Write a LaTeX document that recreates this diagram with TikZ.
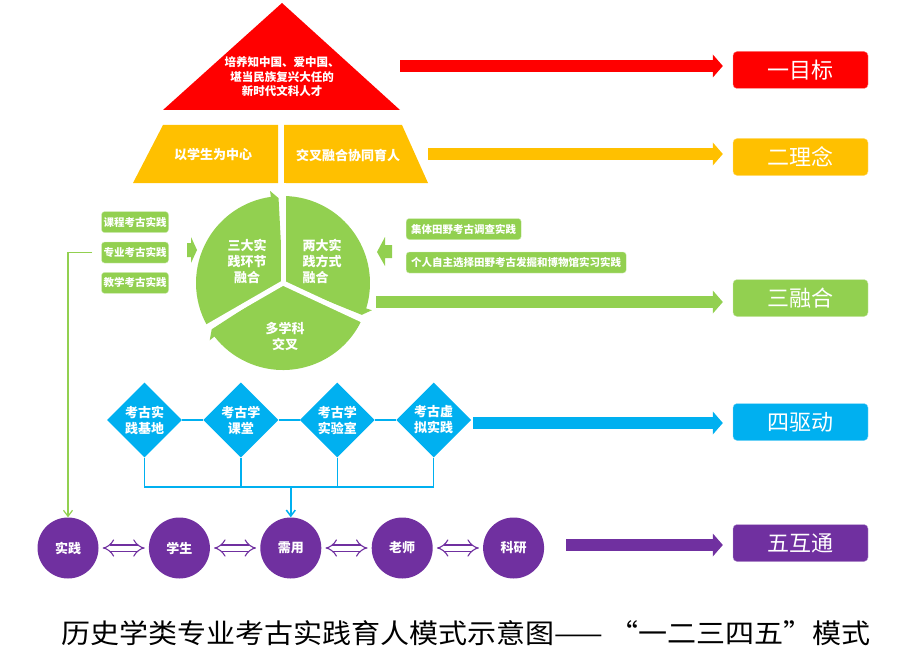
\documentclass[tikz,border=0pt]{standalone}
\usepackage{fontspec}
\newfontfamily\cjk{Noto Sans CJK SC}
\usetikzlibrary{arrows.meta,positioning,shapes.geometric}
\definecolor{cRed}{HTML}{FF0000}
\definecolor{cYel}{HTML}{FFC000}
\definecolor{cGrn}{HTML}{92D050}
\definecolor{cBlu}{HTML}{00B0F0}
\definecolor{cPur}{HTML}{7030A0}
\tikzset{
  lvl/.style={draw=white!55!#1, fill=#1, rounded corners=4pt, minimum width=135pt,
              minimum height=37pt, text=white, font=\cjk\fontsize{22}{24}\selectfont},
  flow/.style={draw=#1, line width=12pt,
               -{Triangle[length=10pt 0 0, width=23pt 0 0, line width=0pt 0 0]},
               shorten >=10pt},
  wtxt/.style={text=white, align=center, font=\cjk\bfseries\fontsize{13}{16}\selectfont},
  gtag/.style={fill=cGrn, draw=white!60!cGrn, rounded corners=3pt, minimum height=21pt,
               text=white, inner xsep=2pt, font=\cjk\bfseries\fontsize{10.5}{12}\selectfont},
  dia/.style={diamond, fill=cBlu, minimum width=75pt, minimum height=75pt, inner sep=0pt, wtxt},
  pc/.style={circle, fill=cPur, minimum size=61pt, inner sep=0pt, wtxt},
  dbl/.style={draw=cPur, line width=1.1pt, double=white, double distance=5pt,
              {Implies[length=7pt 0 0, width=15pt 0 0]}-{Implies[length=7pt 0 0, width=15pt 0 0]},
              shorten <=4pt, shorten >=4pt},
  bline/.style={draw=cBlu, line width=1.5pt},
  gline/.style={draw=cGrn, line width=1.2pt},
  barb/.style={-{Straight Barb[length=6pt,width=9pt]}},
}

\begin{document}
\begin{tikzpicture}[x=1pt, y=-1pt]
  \useasboundingbox (0,0) rectangle (918,658);

  % ---- right column: the five levels ----
  \node[lvl=cRed] (b1) at (800.5,70) {一目标};
  \node[lvl=cYel] (b2) at (800.5,157) {二理念};
  \node[lvl=cGrn] (b3) at (800.5,298) {三融合};
  \node[lvl=cBlu] (b4) at (800.5,422) {四驱动};
  \node[lvl=cPur] (b5) at (800.5,543) {五互通};

  % ---- goal: red pyramid ----
  \fill[cRed] (282,3) -- (400,110) -- (163,110) -- cycle;
  \node[wtxt, font=\cjk\bfseries\fontsize{11.5}{14.5}\selectfont] (aim) at (282,77)
    {培养知中国、爱中国、\\堪当民族复兴大任的\\新时代文科人才};
  \coordinate (a1) at (400,66);
  \draw[flow=cRed] (a1) -- (a1 -| b1.west);

  % ---- idea: yellow trapezoid ----
  \fill[cYel] (163,125) -- (278,125) -- (278,183) -- (133,183) -- cycle;
  \fill[cYel] (284,125) -- (402,125) -- (428,183) -- (284,183) -- cycle;
  \node[wtxt] (c1) at (213,155) {以学生为中心};
  \node[wtxt] (c2) at (348,155) {交叉融合协同育人};
  \coordinate (a2) at (428,154);
  \draw[flow=cYel] (a2) -- (a2 -| b2.west);

  % ---- fusion: green cycle ----
  \begin{scope}[shift={(283,283)}, yscale=-1]
    \fill[cGrn] (0,0) -- (210:87) arc[start angle=210, end angle=98, radius=87]
      -- (98:93) -- (93:85) -- cycle;
    \fill[cGrn] (0,0) -- (90:87) arc[start angle=90, end angle=-17, radius=87]
      -- (-17:93) -- (-22:85) -- cycle;
    \fill[cGrn] (0,0) -- (-25:87) arc[start angle=-25, end angle=-142, radius=87]
      -- (-142:93) -- (-147:85) -- cycle;
    \foreach \g in {90,210,335}
      \draw[white, line width=5pt] (0,0) -- (\g:100);
  \end{scope}
  \node[wtxt] (s1) at (247,261) {三大实\\践环节\\融合};
  \node[wtxt, align=left, anchor=west] (s2) at (299,261) {两大实\\践方式\\融合};
  \node[wtxt] (s3) at (285,336) {多学科\\交叉};

  \node[gtag] (t2) at (135,252.5) {专业考古实践};
  \node[gtag, above=9pt of t2] (t1) {课程考古实践};
  \node[gtag, below=9pt of t2] (t3) {教学考古实践};
  \fill[cGrn] (187,243) -- (191,243) -- (191,237) -- (197,250) -- (191,263)
    -- (191,257) -- (187,257) -- cycle;

  \node[gtag, inner xsep=5pt, anchor=west] (f1) at (406,229) {集体田野考古调查实践};
  \node[gtag, inner xsep=5pt, anchor=west] (f2) at (406,262.5) {个人自主选择田野考古发掘和博物馆实习实践};
  \fill[cGrn] (392,245) -- (385,245) -- (385,237) -- (377,252) -- (385,266)
    -- (385,258) -- (392,258) -- cycle;
  \coordinate (a3) at (376,302);
  \draw[flow=cGrn] (a3) -- (a3 -| b3.west);

  % ---- exchange: purple circles ----
  \node[pc] (p1) at (68,548) {实践};
  \node[pc, right=50pt of p1] (p2) {学生};
  \node[pc, right=50pt of p2] (p3) {需用};
  \node[pc, right=50pt of p3] (p4) {老师};
  \node[pc, right=50pt of p4] (p5) {科研};
  \foreach \a/\b in {p1/p2,p2/p3,p3/p4,p4/p5}
    \draw[dbl] (\a) -- (\b);
  \coordinate (a5) at (566,545);
  \draw[flow=cPur] (a5) -- (a5 -| b5.west);
  \draw[gline, barb, shorten <=9pt] (t2.west) -| (p1.north);

  % ---- drive: blue diamonds ----
  \node[dia] (d1) at (144.5,420) {考古实\\践基地};
  \node[dia, right=21pt of d1] (d2) {考古学\\课堂};
  \node[dia, right=21pt of d2] (d3) {考古学\\实验室};
  \node[dia, right=21pt of d3] (d4) {考古虚\\拟实践};
  \draw[bline] (d1) -- (d2);
  \draw[bline] (d2) -- (d3);
  \draw[bline] (d3) -- (d4);
  \coordinate (bl) at (0,487);
  \coordinate (bj) at (p3.north |- bl);
  \draw[bline] (d1.south) |- (bj);
  \draw[bline] (d4.south) |- (bj);
  \draw[bline] (d2.south) -- (d2.south |- bj);
  \draw[bline] (d3.south) -- (d3.south |- bj);
  \draw[bline, barb] (bj) -- (p3.north);
  \coordinate (a4) at (473,423);
  \draw[flow=cBlu] (a4) -- (a4 -| b4.west);

  % caption
  \node[font=\cjk\fontsize{27}{30}\selectfont, transform shape, xscale=1.075] (cap) at (466,633)
    {历史学类专业考古实践育人模式示意图—— “一二三四五”模式};
\end{tikzpicture}
\end{document}
